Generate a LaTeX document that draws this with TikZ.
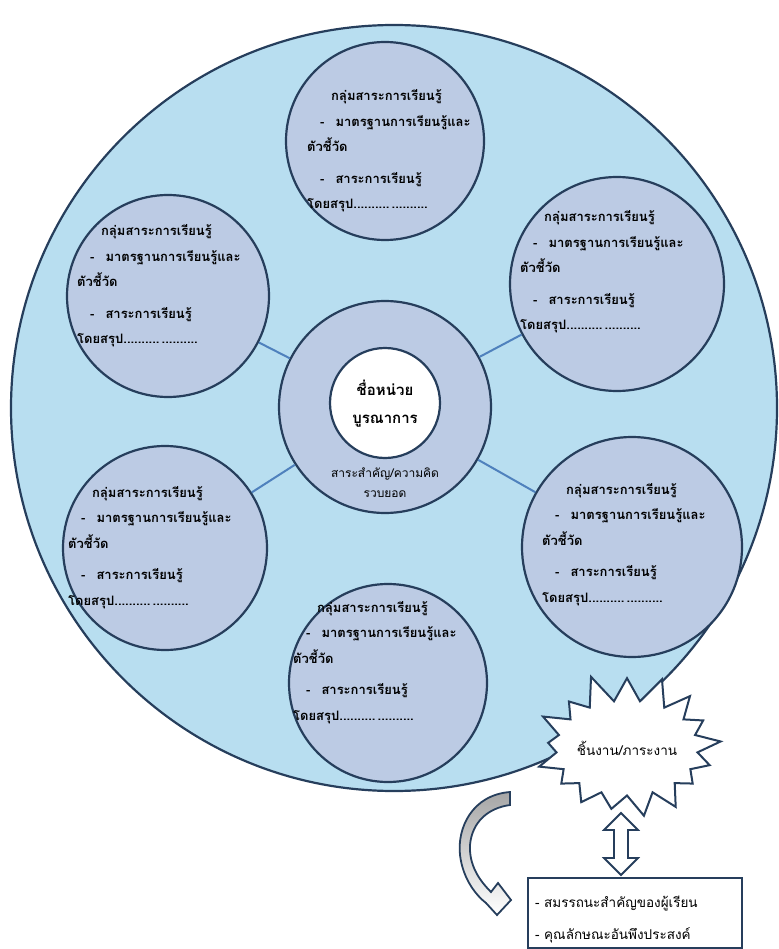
\documentclass[tikz,border=0pt]{standalone}
\usepackage{fontspec}
\newfontfamily\thaifont[Script=Thai]{Loma}
\usetikzlibrary{shapes.symbols}
\definecolor{bigfill}{RGB}{184,222,240}
\definecolor{satfill}{RGB}{188,203,228}
\definecolor{edgecol}{RGB}{38,62,92}
\definecolor{conncol}{RGB}{79,129,189}
\newcommand{\sattext}{\hspace*{24pt}กลุ่มสาระการเรียนรู้\\
\hspace*{13pt}-\hspace{11pt}มาตรฐานการเรียนรู้และ\\
ตัวชี้วัด\\[6pt]
\hspace*{13pt}-\hspace{11pt}สาระการเรียนรู้\\
โดยสรุป..........\,..........}
\begin{document}
\begin{tikzpicture}[x=1pt,y=-1pt,
  sat/.style={circle,draw=edgecol,line width=2.2pt,fill=satfill,inner sep=0pt},
  sattxt/.style={anchor=base west,inner sep=0pt,text width=200pt,align=left,
    font=\thaifont\bfseries\fontsize{13}{25.5}\selectfont},
  conn/.style={draw=conncol,line width=2pt}]
\useasboundingbox (0,0) rectangle (778,949);
% big circle
\node[circle,draw=edgecol,line width=2.2pt,fill=bigfill,minimum size=766pt,inner sep=0pt] (big) at (394,408) {};
% satellites
\node[sat,minimum size=198pt] (top) at (385,141) {};
\node[sat,minimum size=202pt] (ul) at (168,296) {};
\node[sat,minimum size=214pt] (ur) at (617,284) {};
\node[sat,minimum size=204pt] (ll) at (165,548) {};
\node[sat,minimum size=220pt] (lr) at (632,547) {};
\node[sat,minimum size=198pt] (bot) at (388,683) {};
% centre
\node[sat,minimum size=212pt] (ring) at (385,407) {};
\node[circle,draw=edgecol,line width=2.2pt,fill=white,minimum size=110pt,inner sep=0pt] (core) at (385,403) {};
% connectors
\draw[conn] (ring) -- (ul);
\draw[conn] (ring) -- (ur);
\draw[conn] (ring) -- (ll);
\draw[conn] (ring) -- (lr);
% texts
\node[sattxt] (ttop) at (307,101) {\sattext};
\node[sattxt] (tul) at (77,236) {\sattext};
\node[sattxt] (tur) at (520,222) {\sattext};
\node[sattxt] (tll) at (68,497) {\sattext};
\node[sattxt] (tlr) at (542,494) {\sattext};
\node[sattxt] (tbot) at (293,612) {\sattext};
\node[align=center,inner sep=0pt,font=\thaifont\bfseries\fontsize{15}{28}\selectfont] (ctitle) at (385,404) {ชื่อหน่วย\\บูรณาการ};
\node[align=center,inner sep=0pt,font=\thaifont\fontsize{12}{20}\selectfont] (cidea) at (385,483) {สาระสำคัญ/ความคิด\\รวบยอด};
% starburst
\node[starburst,draw=edgecol,line width=2pt,fill=white,minimum width=185pt,minimum height=155pt,
  starburst points=17,starburst point height=30pt,random starburst=11,inner sep=0pt,
  font=\thaifont\fontsize{13.5}{15}\selectfont] (burst) at (627,748) {ชิ้นงาน/ภาระงาน};
% double arrow
\draw[edgecol,line width=1.8pt,fill=white,line join=miter]
  (621,813) -- (638,830) -- (628,830) -- (628,858) -- (638,858) -- (621,875)
  -- (604,858) -- (614,858) -- (614,830) -- (604,830) -- cycle;
% curved arrow
\draw[edgecol,line width=1.8pt,top color=gray!70,bottom color=white,line join=miter]
  (510,792) .. controls (472,795) and (457,828) .. (460,855)
  .. controls (463,880) and (477,896) .. (486,903)
  -- (497,915) -- (511,900) -- (498,883) -- (491,892)
  .. controls (479,880) and (469,865) .. (470,845)
  .. controls (472,822) and (488,808) .. (510,805) -- cycle;
% box
\node[draw=edgecol,line width=2pt,fill=white,minimum width=214pt,minimum height=70pt,anchor=north west,inner sep=0pt] (box) at (527,877) {};
\node[anchor=base west,inner sep=0pt,text width=205pt,align=left,font=\thaifont\fontsize{13.5}{32}\selectfont] (boxtxt) at (535,907) {- สมรรถนะสำคัญของผู้เรียน\\- คุณลักษณะอันพึงประสงค์};
\end{tikzpicture}
\end{document}
